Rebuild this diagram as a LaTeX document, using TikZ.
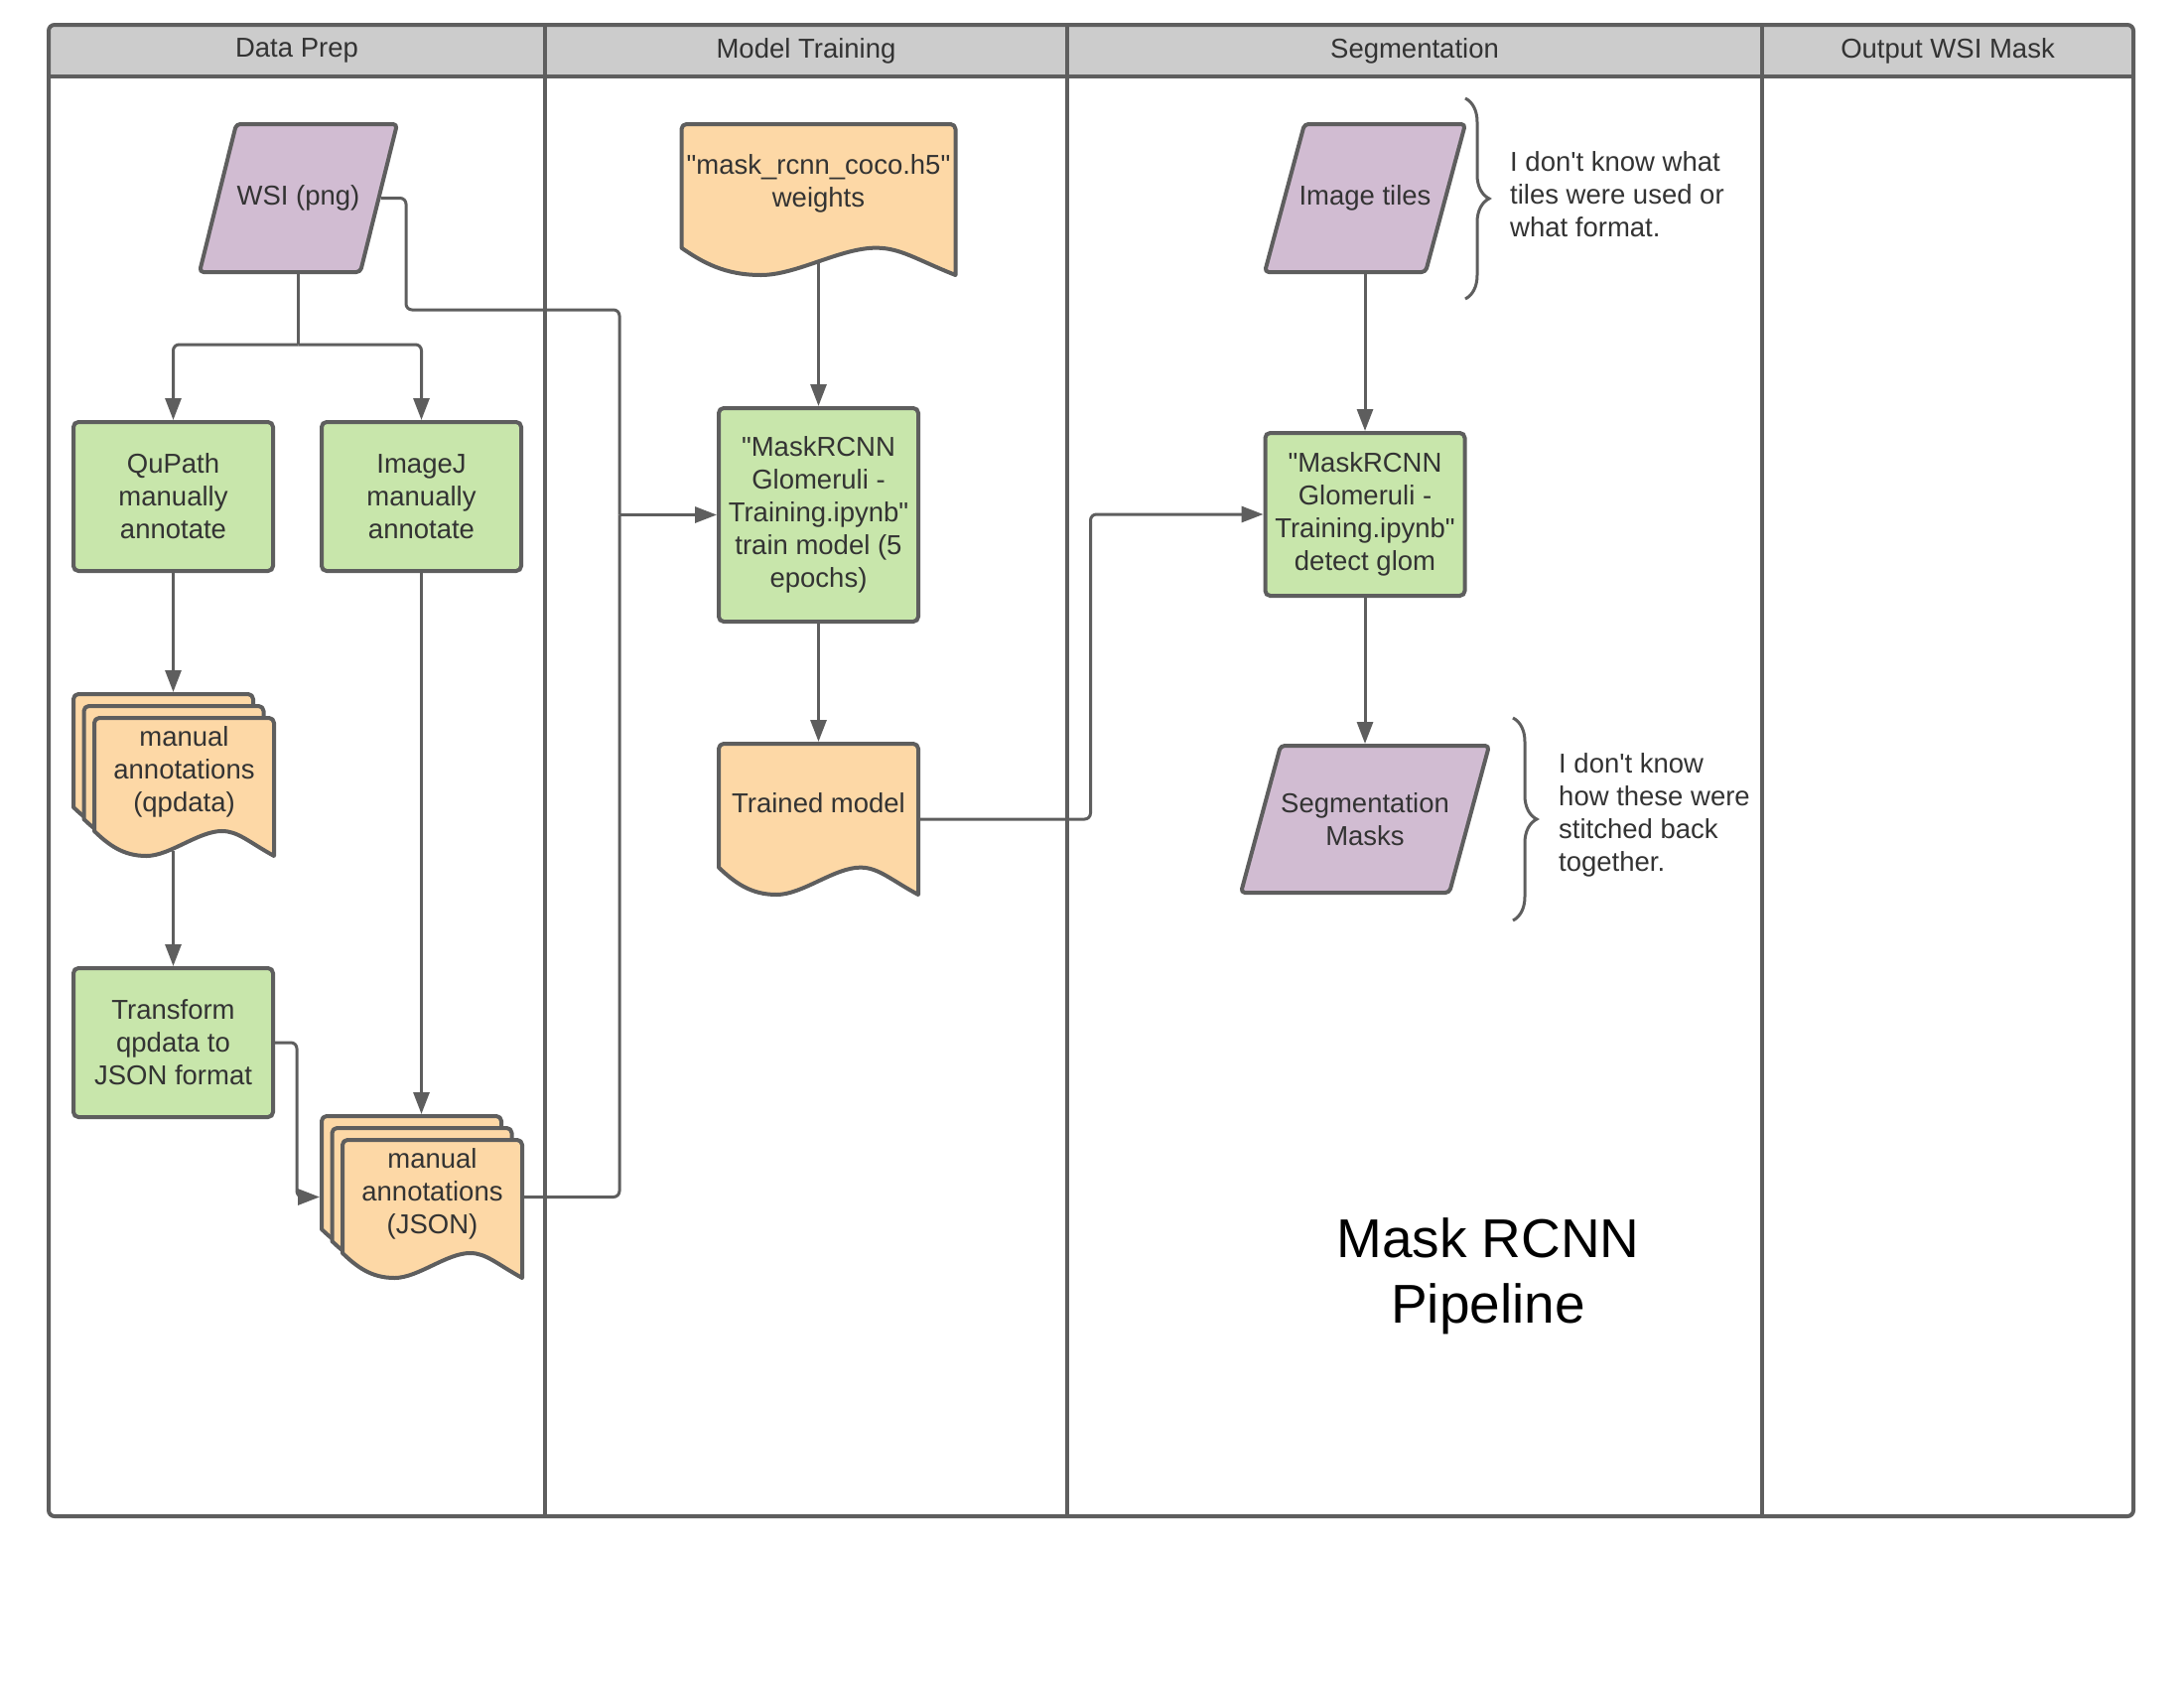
\documentclass[tikz,border=0pt]{standalone}
\usepackage{fontspec}
\newfontfamily\lsans{Liberation Sans}
\usetikzlibrary{arrows.meta,decorations.pathreplacing,calc}
\definecolor{linegray}{HTML}{5E5E5E}
\definecolor{headgray}{HTML}{CCCCCC}
\definecolor{greenfill}{HTML}{C8E6AB}
\definecolor{orangefill}{HTML}{FDD8A6}
\definecolor{purplefill}{HTML}{D1BCD2}
\definecolor{txtgray}{HTML}{333333}
% document shape: x0 y0 (top-left) w h
\newcommand{\docshape}[4]{%
  \filldraw[shapeline, fill=orangefill]
    (#1,{#2+0.82*#4}) [rounded corners=5pt] -- (#1,#2) -- ({#1+#3},#2) [sharp corners] -- ({#1+#3},{#2+#4})
    .. controls ({#1+0.86*#3},{#2+0.90*#4}) and ({#1+0.80*#3},{#2+0.82*#4}) .. ({#1+0.71*#3},{#2+0.82*#4})
    .. controls ({#1+0.58*#3},{#2+0.82*#4}) and ({#1+0.42*#3},{#2+#4}) .. ({#1+0.29*#3},{#2+#4})
    .. controls ({#1+0.16*#3},{#2+#4}) and ({#1+0.08*#3},{#2+0.92*#4}) .. (#1,{#2+0.82*#4}) -- cycle;}
% parallelogram: x0 y0 w h slant
\newcommand{\parashape}[5]{%
  \filldraw[shapeline, fill=purplefill, rounded corners=4pt]
    ({#1+#5},#2) -- ({#1+#3},#2) -- ({#1+#3-#5},{#2+#4}) -- (#1,{#2+#4}) -- cycle;}
\begin{document}
\begin{tikzpicture}[x=1pt,y=-1pt,
  every node/.style={font=\lsans\fontsize{27.5}{33}\selectfont, text=txtgray, align=center},
  procbox/.style={draw=linegray, line width=4pt, fill=greenfill, rounded corners=5pt, minimum width=201pt, inner sep=2pt},
  shapebox/.style={draw=none, inner sep=0pt, outer sep=2pt},
  shapeline/.style={draw=linegray, line width=4pt, line join=round},
  conn/.style={draw=linegray, line width=3pt, rounded corners=6pt},
  arr/.style={conn, -{Triangle[length=22pt,width=16pt]}},
  bracestyle/.style={draw=linegray, line width=3pt, decorate, decoration={brace, amplitude=24pt}},
  lane/.style={draw=linegray, line width=4pt},
  notetext/.style={align=left, anchor=west, inner sep=0pt}
]
\fill[white] (0,0) rectangle (2200,1700);
\useasboundingbox (0,0) rectangle (2200,1700);

% swimlane frame
\fill[headgray, rounded corners=6pt] (49,25) rectangle (2149,100);
\fill[white] (51,77) rectangle (2147,110);
\draw[lane, rounded corners=6pt] (49,25) rectangle (2149,1527);
\draw[lane] (49,77) -- (2149,77);
\foreach \xx in {549,1075,1775} \draw[lane] (\xx,25) -- (\xx,1527);

\node (hdata) at (299,51) {Data Prep};
\node (htrain) at (812,51) {Model Training};
\node (hseg) at (1425,51) {Segmentation};
\node (hout) at (1962,51) {Output WSI Mask};

% Data Prep
\parashape{201}{125}{199}{149}{37}
\node[shapebox, minimum width=199pt, minimum height=149pt] (wsi) at (300.5,199.5) {WSI (png)};
\node[procbox, minimum height=150pt] (qupath) at (174.5,500) {QuPath\\manually\\annotate};
\node[procbox, minimum height=150pt] (imagej) at (424.5,500) {ImageJ\\manually\\annotate};
\docshape{74}{699}{181}{139}
\docshape{84.5}{711}{181}{139}
\docshape{95}{723}{181}{139}
\node[shapebox, minimum width=202pt, minimum height=163pt] (qpdata) at (175,780.5) {};
\node (qpdatatext) at (185.5,777) {manual\\annotations\\(qpdata)};
\node[procbox, minimum height=150pt] (transform) at (174.5,1050) {Transform\\qpdata to\\JSON format};
\docshape{324}{1124}{181}{139}
\docshape{334.5}{1136}{181}{139}
\docshape{345}{1148}{181}{139}
\node[shapebox, minimum width=202pt, minimum height=163pt] (json) at (425,1205.5) {};
\node (jsontext) at (435.5,1202) {manual\\annotations\\(JSON)};

% Model Training
\docshape{686.5}{125}{276}{152}
\node[shapebox, minimum width=276pt, minimum height=152pt] (weights) at (824.5,201) {};
\node (weightstext) at (824.5,185) {"mask\_rcnn\_coco.h5"\\weights};
\node[procbox, minimum height=215pt] (training) at (824.5,518.5) {"MaskRCNN\\Glomeruli -\\Training.ipynb"\\train model (5\\epochs)};
\docshape{724}{749}{201}{152}
\node[shapebox, minimum width=201pt, minimum height=152pt] (trained) at (824.5,825) {};
\node (trainedtext) at (824.5,809) {Trained model};

% Segmentation
\parashape{1274}{125}{202}{149}{40}
\node[shapebox, minimum width=202pt, minimum height=149pt] (tiles) at (1375,199.5) {Image tiles};
\node[procbox, minimum height=164pt] (detect) at (1375,518) {"MaskRCNN\\Glomeruli -\\Training.ipynb"\\detect glom};
\parashape{1250}{751}{250}{148}{40}
\node[shapebox, minimum width=250pt, minimum height=148pt] (masks) at (1375,825) {Segmentation\\Masks};

\draw[bracestyle] (1476,99) -- (1476,301);
\node[notetext] (note1) at (1521,196) {I don't know what\\tiles were used or\\what format.};
\draw[bracestyle] (1524,723) -- (1524,927);
\node[notetext] (note2) at (1570,821) {I don't know\\how these were\\stitched back\\together.};

\node[font=\lsans\fontsize{55}{66}\selectfont, text=black] (title) at (1499,1285) {Mask RCNN\\Pipeline};

% connectors
\coordinate (split) at (300.5,347);
\draw[conn] (wsi.south) -- (split);
\draw[arr] (split) -| (qupath.north);
\draw[arr] (split) -| (imagej.north);
\draw[arr] (qupath.south) -- (qupath.south |- qpdata.north);
\draw[arr] ([yshift=7pt]transform.north |- qpdata.south) -- (transform.north);
\draw[arr] (imagej.south) -- (imagej.south |- json.north);
\draw[arr] (transform.east) -| ([xshift=-23pt]json.west) -- (json.west);

\coordinate (jA) at ($(training.west)+(-98,0)$);
\draw[conn] ([xshift=-18.5pt]wsi.east) -| (409,312) -| (jA);
\draw[conn] (json.east) -| (jA);
\draw[arr] (jA) -- (training.west);

\draw[arr] ([yshift=14pt]weights.south) -- (training.north);
\draw[arr] (training.south) -- (trained.north);
\draw[arr] (trained.east) -| ([xshift=-174pt]detect.west) -- (detect.west);
\draw[arr] (tiles.south) -- (detect.north);
\draw[arr] (detect.south) -- (masks.north);
\end{tikzpicture}
\end{document}
